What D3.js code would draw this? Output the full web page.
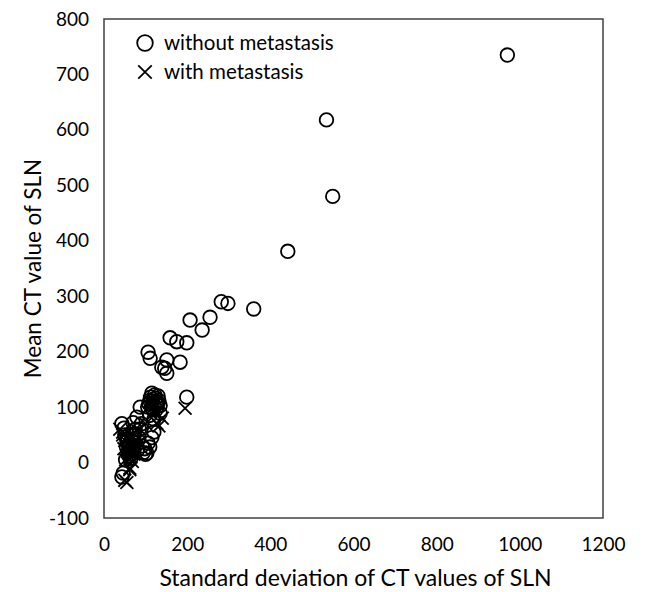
<!DOCTYPE html>
<html lang="en">
<head>
    <meta charset="UTF-8">
    <title>Mean vs SD of CT values</title>
    <style>
        body { margin: 0; background: #fff; }
        text { font-family: Lato, "Open Sans", sans-serif; fill: #000; }
        .mark { fill: none; stroke: #000; stroke-width: 1.8; }
    </style>
    <script src="https://d3js.org/d3.v7.min.js"></script>
</head>
<body>
    <svg width="646" height="592"></svg>
    <script>
        // without metastasis: [SD, mean]
        const noMetSD   = [970, 535, 550, 442, 360, 298, 282, 255, 236, 207, 199, 159, 175, 183, 151, 106, 111, 139, 146, 151,
                           199, 115, 122, 130, 110, 125, 135, 105, 118, 128, 87, 135, 120, 79, 110, 90, 75, 70, 43, 50,
                           55, 60, 65, 70, 75, 80, 95, 100, 106, 103, 110, 115, 120, 85, 60, 46, 43, 52, 65, 72,
                           112, 118, 124, 130, 116, 108, 126, 132, 58, 62, 66, 54, 68, 74, 56, 64, 84, 92, 98, 48];
        const noMetMean = [735, 618, 480, 381, 277, 287, 290, 262, 239, 257, 216, 225, 218, 181, 185, 199, 188, 172, 170, 161,
                           118, 125, 122, 120, 112, 110, 103, 100, 95, 105, 100, 89, 78, 82, 85, 70, 60, 72, 70, 50,
                           40, 30, 25, 42, 35, 22, 18, 15, 35, 17, 28, 45, 55, 60, 12, -19, -26, 5, 8, 30,
                           118, 114, 116, 108, 98, 106, 96, 112, 20, 35, 15, 28, 48, 52, 38, 22, 45, 30, 25, 62];
        // with metastasis
        const metSD     = [195, 127, 132, 140, 120, 38, 45, 50, 55, 60, 65, 70, 75, 80, 48, 58, 62, 50, 55, 62,
                           68, 72, 85, 100, 45, 52, 66, 56, 64, 70, 118, 110];
        const metMean   = [98, 71, 66, 80, 90, 60, 50, 40, 30, 20, 10, 30, 40, 58, 25, 45, -13, -32, -36, -10,
                           2, 15, 35, 70, 55, 5, 48, 20, 28, 18, 100, 110];

        const xTicks = [0, 200, 400, 600, 800, 1000, 1200];
        const yTicks = [-100, 0, 100, 200, 300, 400, 500, 600, 700, 800];
        const legendLabels = ["without metastasis", "with metastasis"];

        const svg = d3.select("svg");
        const pLeft = 104, pRight = 603, pTop = 19, pBottom = 518;

        const x = d3.scaleLinear().domain([0, 1200]).range([pLeft, pRight]);
        const y = d3.scaleLinear().domain([-100, 800]).range([pBottom, pTop]);

        svg.append("rect")
            .attr("x", pLeft).attr("y", pTop)
            .attr("width", pRight - pLeft).attr("height", pBottom - pTop)
            .attr("fill", "none").attr("stroke", "#404040").attr("stroke-width", 1.5);

        const xAxis = svg.append("g")
            .attr("transform", `translate(0,${pBottom + 16})`)
            .call(d3.axisBottom(x).tickValues(xTicks).tickSize(0).tickFormat(d => String(d)));
        xAxis.select(".domain").remove();
        xAxis.selectAll("text").style("font-size", "19px").attr("dy", "0.75em");

        const yAxis = svg.append("g")
            .attr("transform", `translate(${pLeft - 15},0)`)
            .call(d3.axisLeft(y).tickValues(yTicks).tickSize(0).tickFormat(d => String(d)));
        yAxis.select(".domain").remove();
        yAxis.selectAll("text").style("font-size", "19px").attr("x", 0);

        svg.append("text")
            .attr("x", (pLeft + pRight) / 2 + 2).attr("y", 586)
            .attr("text-anchor", "middle").style("font-size", "23px")
            .text("Standard deviation of CT values of SLN");

        svg.append("text")
            .attr("transform", `translate(41,${(pTop + pBottom) / 2}) rotate(-90)`)
            .attr("text-anchor", "middle").style("font-size", "22.5px")
            .text("Mean CT value of SLN");

        const noMet = noMetSD.map((d, i) => [d, noMetMean[i]]);
        const met = metSD.map((d, i) => [d, metMean[i]]);

        const cross = d3.symbol().type(d3.symbolX).size(110);

        svg.append("g").selectAll("path")
            .data(met)
            .join("path")
            .attr("class", "mark")
            .attr("d", cross)
            .attr("transform", d => `translate(${x(d[0])},${y(d[1])})`);

        svg.append("g").selectAll("circle")
            .data(noMet)
            .join("circle")
            .attr("class", "mark")
            .attr("cx", d => x(d[0]))
            .attr("cy", d => y(d[1]))
            .attr("r", 6.8);

        // legend
        const lg = svg.append("g");
        lg.append("circle").attr("class", "mark").attr("cx", 145).attr("cy", 43).attr("r", 7.8).attr("stroke-width", 1.2);
        lg.append("path").attr("class", "mark").attr("d", d3.symbol().type(d3.symbolX).size(120))
            .attr("transform", "translate(145,72)").attr("stroke-width", 1.4);
        lg.selectAll("text.lbl")
            .data(legendLabels)
            .join("text")
            .attr("class", "lbl")
            .attr("x", 164)
            .attr("y", (d, i) => 50 + i * 29)
            .style("font-size", "20.5px")
            .text(d => d);
    </script>
</body>
</html>
